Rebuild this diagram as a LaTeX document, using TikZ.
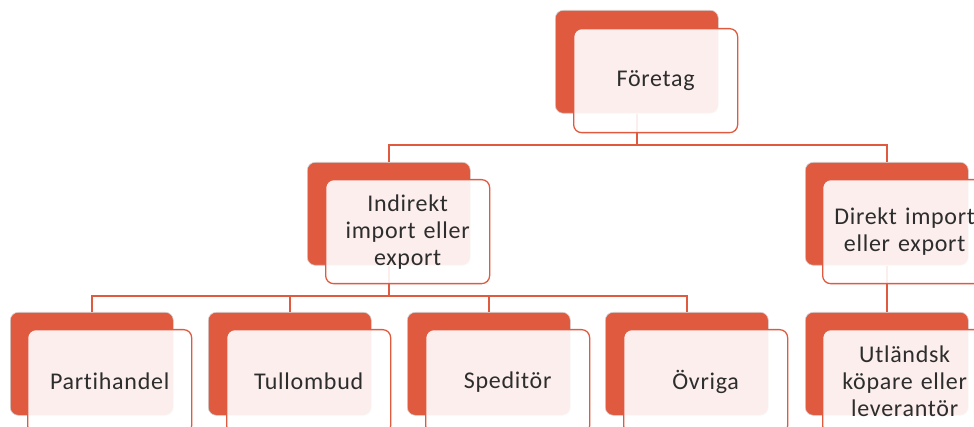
\documentclass[tikz,border=0pt]{standalone}
\usepackage{fontspec}
\setmainfont{Carlito}[Ligatures=NoCommon,LetterSpace=3,WordSpace=0.6]
\definecolor{accred}{RGB}{224,90,64}
\definecolor{txtgray}{RGB}{45,45,45}
\begin{document}
\begin{tikzpicture}[x=1pt,y=-1pt,
  backbox/.style={rectangle, rounded corners=8pt, minimum width=163pt, minimum height=103pt,
    fill=accred, draw=black!18, line width=0.6pt, anchor=north west, inner sep=0pt},
  frontbox/.style={rectangle, rounded corners=8pt, minimum width=164pt, minimum height=104pt,
    fill=white, fill opacity=0.9, text opacity=1, draw=accred, line width=1.3pt,
    anchor=north west, align=center, text width=156pt, inner sep=0pt,
    font=\fontsize{24}{27}\selectfont, text=txtgray},
  link/.style={draw=accred, line width=1.4pt}]
\clip (0,0) rectangle (974,427);
\fill[white] (0,0) rectangle (974,427);
% back boxes
\node[backbox] (fB) at (555,10) {};
\node[backbox] (iB) at (307,162) {};
\node[backbox] (dB) at (805,162) {};
\node[backbox] (pB) at (10,312) {};
\node[backbox] (tB) at (208,312) {};
\node[backbox] (sB) at (407,312) {};
\node[backbox] (oB) at (605,312) {};
\node[backbox] (uB) at (805,312) {};
% connectors
\coordinate (busTop) at (0,145);
\coordinate (busLow) at (0,296);
\draw[link] (fB.south) -- (fB.south |- busTop) -| (iB.north);
\draw[link] (fB.south |- busTop) -| (dB.north);
\draw[link] (iB.south) -- (iB.south |- busLow) -| (pB.north);
\draw[link] (iB.south |- busLow) -| (tB.north);
\draw[link] (iB.south |- busLow) -| (sB.north);
\draw[link] (iB.south |- busLow) -| (oB.north);
\draw[link] (dB.south) -- (uB.north);
% front boxes
\node[frontbox] (fF) at (573,28) {Företag};
\node[frontbox] (iF) at (325,179) {Indirekt\\import eller\\export};
\node[frontbox] (dF) at (822,179) {Direkt import\\eller export};
\node[frontbox] (pF) at (27,329) {Partihandel};
\node[frontbox] (tF) at (226,329) {Tullombud};
\node[frontbox] (sF) at (425,329) {Speditör};
\node[frontbox] (oF) at (623,329) {Övriga};
\node[frontbox] (uF) at (822,329) {Utländsk\\köpare eller\\leverantör};
\end{tikzpicture}
\end{document}
